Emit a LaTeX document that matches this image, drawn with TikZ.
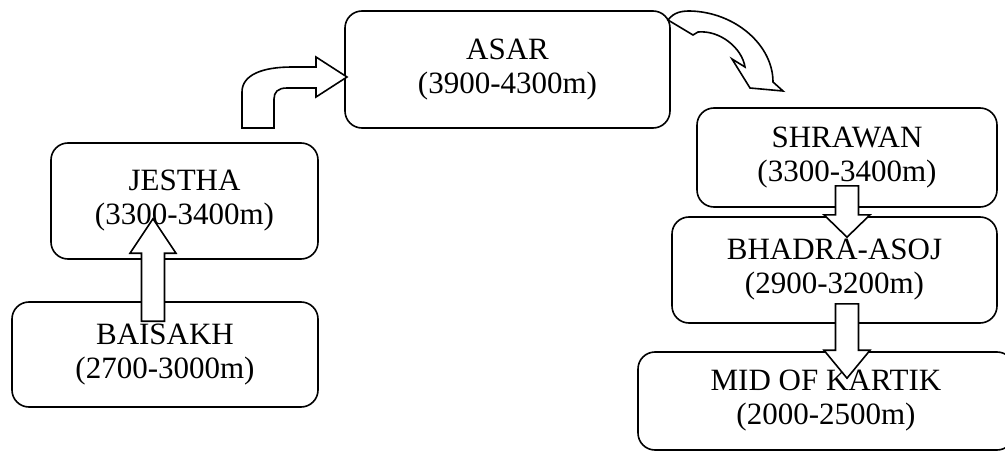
\documentclass[tikz,border=0pt]{standalone}
\usepackage{fontspec}
\setmainfont{Liberation Serif}
\usetikzlibrary{calc}

\tikzset{
  season/.style={draw, rounded corners=17pt, line width=1.6pt, align=center,
    inner sep=0pt, font=\fontsize{31}{34}\selectfont},
  blockarrow/.style={draw, fill=white, line width=1.6pt,
    to path={let \p1=(\tikztostart), \p2=(\tikztotarget),
      \p3=($(\tikztotarget)!#1!(\tikztostart)$) in
      (\x1-11.5pt,\y1) -- (\x1-11.5pt,\y3) -- (\x1-23pt,\y3) -- (\x1,\y2)
      -- (\x1+23pt,\y3) -- (\x1+11.5pt,\y3) -- (\x1+11.5pt,\y1) -- cycle}},
  bentarrow/.style={draw, fill=white, line width=1.6pt}
}

\begin{document}
\begin{tikzpicture}[x=1pt,y=-1pt]
        \useasboundingbox (0,0) rectangle (1005,452);
        \clip (0,0) rectangle (1005,452);

        \node[season, minimum width=306pt, minimum height=105pt] (baisakh) at (165,354.5) {BAISAKH\\(2700-3000m)};
        \node[season, minimum width=267pt, minimum height=116pt] (jestha) at (184.5,201) {JESTHA\\(3300-3400m)};
        \node[season, minimum width=325pt, minimum height=117pt] (asar) at (507.5,69.5) {ASAR\\(3900-4300m)};
        \node[season, minimum width=300pt, minimum height=99pt] (shrawan) at (847,157.5) {SHRAWAN\\(3300-3400m)};
        \node[season, minimum width=325pt, minimum height=106pt] (bhadra) at (834.5,270) {BHADRA-ASOJ\\(2900-3200m)};
        \node[season, minimum width=376pt, minimum height=98pt] (kartik) at (826,401) {MID OF KARTIK\\(2000-2500m)};

        \draw[blockarrow=36pt] ([xshift=-12pt,yshift=-20pt]baisakh.north) to ([yshift=41pt]jestha.south);
        \draw[blockarrow=23pt] ([yshift=22pt]shrawan.south) to ([yshift=-21pt]bhadra.north);
        \draw[blockarrow=29pt] ([xshift=12.5pt,yshift=20pt]bhadra.south) to ([yshift=-27pt]kartik.north);

        % jestha to asar
        \draw[bentarrow] (242,128) -- (242,92) .. controls (242,75) and (262,67) .. (292,67)
            -- (316,67) -- (316,57) -- (347,77) -- (316,97) -- (316,88) -- (287,88)
            .. controls (278,88) and (274,92) .. (274,99) -- (274,128) -- cycle;

        % asar to shrawan
        \draw[bentarrow] (668,20) .. controls (674,12) and (682,11) .. (690,11)
            .. controls (735,12) and (773,45) .. (773,82) -- (783,91) -- (750,88)
            -- (732,59) -- (745,67) .. controls (742,48) and (720,30) .. (698,32)
            -- (693,35) -- cycle;

    \end{tikzpicture}
\end{document}
